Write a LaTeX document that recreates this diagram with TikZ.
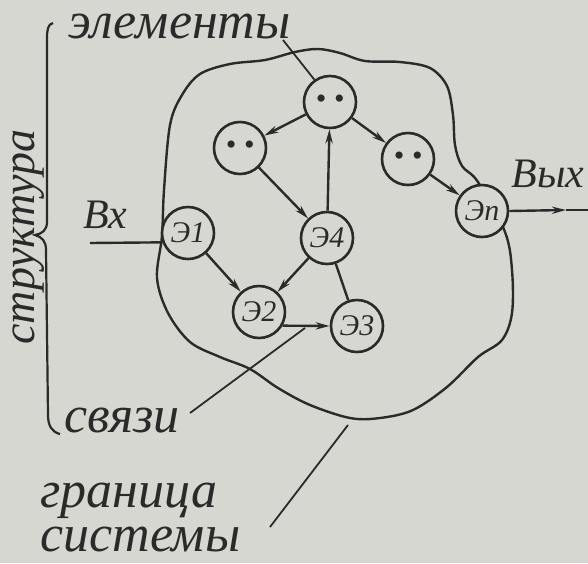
\documentclass[tikz,border=0pt]{standalone}
\usepackage{fontspec}
\setmainfont{Liberation Serif}
\usetikzlibrary{arrows.meta}
\definecolor{ink}{HTML}{2A2A2A}
\definecolor{paper}{HTML}{D7D7D2}

\begin{document}
\begin{tikzpicture}[
  x=0.5pt, y=-0.5pt,
  elem/.style={circle, draw=ink, fill=paper, line width=1.3pt, minimum size=26pt, inner sep=0pt,
    text=ink, font=\itshape\fontsize{15}{15}\selectfont},
  link/.style={draw=ink, line width=1.2pt, -{Stealth[length=7pt, width=3.6pt]}},
  edge/.style={draw=ink, line width=1.2pt},
  pointer/.style={draw=ink, line width=0.9pt},
  boundary/.style={draw=ink, line width=1.2pt},
  hand/.style={text=ink, inner sep=0pt, font=\itshape\fontsize{26}{22}\selectfont},
  io/.style={text=ink, inner sep=0pt, font=\itshape\fontsize{21}{21}\selectfont}
]
\fill[paper] (0,0) rectangle (588,563);
\useasboundingbox (0,0) rectangle (588,563);

% boundary of the system
\draw[boundary] plot[smooth cycle, tension=0.55] coordinates {
  (162,236) (164,190) (170,125) (182,95) (200,74) (230,64) (265,60) (295,52)
  (318,49) (340,53) (365,61) (400,62) (430,68) (447,86) (453,115) (455,145)
  (462,166) (478,182) (505,232) (512,270) (512,313) (502,340) (478,357)
  (447,387) (413,410) (380,418) (350,418) (310,405) (278,388) (250,369)
  (220,357) (190,342) (168,313) (157,278)};

% structure brace
\draw[pointer, line width=1.1pt] (53,23) .. controls (48,24) and (47,30) .. (47,38) -- (47,222)
  .. controls (47,230) and (42,234) .. (35,235) .. controls (42,237) and (46,241) .. (46,250)
  -- (48,415) .. controls (48,426) and (52,432) .. (60,434);
\node[hand, rotate=90, anchor=base, font=\itshape\fontsize{23}{22}\selectfont] (lblst) at (34,237) {структура};

% elements
\node[elem] (d1) at (330,102) {•\hspace{4pt}•};
\node[elem] (d2) at (240,148) {•\hspace{4pt}•};
\node[elem] (d3) at (408,159) {•\hspace{4pt}•};
\node[elem] (en) at (482,211) {Эп};
\node[elem] (e1) at (188,233) {Э1};
\node[elem] (e2) at (259,312) {Э2};
\node[elem] (e3) at (357,326) {Э3};
\node[elem] (e4) at (327,238) {Э4};

% links
\draw[link] (e1) -- (e2);
\draw[link] (e4) -- (e2);
\draw[link] (e2.-30) -- (e3.west);
\draw[edge] (e4) -- (e3);
\draw[link] (e4) -- (d1);
\draw[link] (d1) -- (d2);
\draw[link] (d2) -- (e4);
\draw[link] (d1) -- (d3);
\draw[link] (d3) -- (en);

% input and output
\coordinate (inend) at (90,243);
\coordinate (outtip) at (566,210);
\coordinate (outend) at (588,210);
\draw[edge] (inend) -- (e1.200);
\draw[link] (en.east) -- (outtip);
\draw[edge] (outtip) -- (outend);
\node[io, anchor=base west] (lblin) at (83,228) {Вх};
\node[io, anchor=base west] (lblout) at (511,187) {Вых};

% labels
\node[hand, anchor=base west] (lblel) at (68,38) {элементы};
\coordinate (pel) at (283,40);
\draw[pointer] (pel) -- (d1.125);

\node[hand, anchor=base west] (lblsv) at (64,432) {связи};
\coordinate (psv1) at (190,413);
\coordinate (psv2) at (305,328);
\draw[pointer] (psv1) -- (psv2);

\node[hand, anchor=base west, align=left] (lblgr) at (40,551) {граница\\системы};
\coordinate (pgr1) at (270,527);
\coordinate (pgr2) at (348,425);
\draw[pointer] (pgr1) -- (pgr2);
\end{tikzpicture}
\end{document}
